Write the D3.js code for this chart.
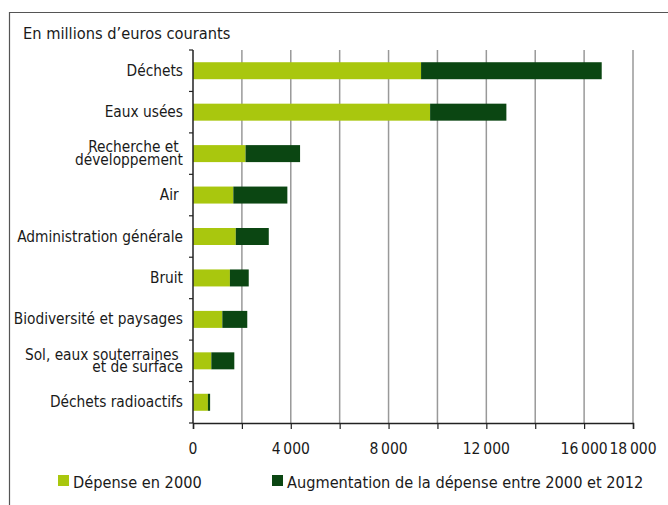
<!DOCTYPE html>
<meta charset="utf-8">
<script src="https://d3js.org/d3.v7.min.js"></script>
<style>
  body { margin: 0; background: #fff; }
  text { font-family: "Liberation Sans Narrow", "DejaVu Sans Condensed", sans-serif; fill: #1a1a1a; }
</style>
<div id="my_dataviz"></div>
<script>

// data
var categories = ["Déchets", "Eaux usées", "Recherche et |développement", "Air ", "Administration générale",
                  "Bruit", "Biodiversité et paysages", "Sol, eaux souterraines |et de surface", "Déchets radioactifs"];
var spend2000 = [9330, 9700, 2150, 1650, 1750, 1510, 1200, 750, 610];
var increase = [7390, 3120, 2230, 2210, 1350, 770, 1020, 940, 90];
var xTicks = [0, 4000, 8000, 12000, 16000, 18000];
var seriesNames = ["Dépense en 2000", "Augmentation de la dépense entre 2000 et 2012"];
var colors = ["#a9c70e", "#0b4612"];

var W = 668, H = 505;
var margin = {top: 50, left: 193, right: 35, bottom: 82};
var width = W - margin.left - margin.right,
    height = H - margin.top - margin.bottom;

var root = d3.select("#my_dataviz").append("svg")
    .attr("width", W).attr("height", H);

// frame
root.append("path")
    .attr("d", "M9.5," + H + "V12.5H" + W)
    .attr("fill", "none").attr("stroke", "#555").attr("stroke-width", 1.2);

root.append("text")
    .attr("x", 23).attr("y", 39)
    .style("font-size", "16.3px")
    .text("En millions d\u2019euros courants");

var svg = root.append("g")
    .attr("transform", "translate(" + margin.left + "," + margin.top + ")");

var x = d3.scaleLinear().domain([0, 18000]).range([0, width]);
var y = d3.scaleBand().domain(categories).range([0, height]).paddingInner(0.59).paddingOuter(0.295);
var yTick = d3.scaleLinear().domain([0, categories.length]).range([0, height]);

// gridlines
svg.selectAll(".grid")
  .data(d3.range(2000, 18001, 2000))
  .enter().append("line")
    .attr("x1", function(d) { return x(d); }).attr("x2", function(d) { return x(d); })
    .attr("y1", 0).attr("y2", height)
    .attr("stroke", "#999").attr("stroke-width", 1.5);

// stacked bars
var stacked = categories.map(function(c, i) {
  return [[0, spend2000[i]], [spend2000[i], spend2000[i] + increase[i]]];
});
categories.forEach(function(c, i) {
  stacked[i].forEach(function(seg, k) {
    svg.append("rect")
      .attr("x", x(seg[0]))
      .attr("y", y(c))
      .attr("width", x(seg[1]) - x(seg[0]))
      .attr("height", y.bandwidth())
      .attr("fill", colors[k]);
  });
});

// x axis
var xAxis = svg.append("g")
    .attr("transform", "translate(0," + height + ")")
    .call(d3.axisBottom(x).tickValues(d3.range(0, 18001, 2000)).tickSize(6).tickFormat(""));
xAxis.select(".domain").attr("stroke", "#222").attr("stroke-width", 1.5);
xAxis.selectAll(".tick line").attr("stroke", "#222").attr("stroke-width", 1.2);

svg.selectAll(".xlab")
  .data(xTicks)
  .enter().append("text")
    .attr("x", function(d) { return x(d); })
    .attr("y", height + 31)
    .attr("text-anchor", "middle")
    .style("font-size", "15.5px")
    .text(function(d) { return d === 0 ? "0" : d3.format(",")(d).replace(",", "\u202f"); });

// y axis
svg.append("line")
    .attr("x1", 0).attr("x2", 0).attr("y1", 0).attr("y2", height)
    .attr("stroke", "#222").attr("stroke-width", 1.5);
svg.selectAll(".ytick")
  .data(d3.range(0, categories.length + 1))
  .enter().append("line")
    .attr("x1", -4).attr("x2", 0)
    .attr("y1", function(d) { return yTick(d); }).attr("y2", function(d) { return yTick(d); })
    .attr("stroke", "#222").attr("stroke-width", 1.2);

categories.forEach(function(c) {
  var lines = c.split("|");
  var cy = y(c) + y.bandwidth() / 2;
  var t = svg.append("text")
      .attr("text-anchor", "end")
      .attr("xml:space", "preserve")
      .style("white-space", "pre")
      .style("font-size", "15.3px");
  lines.forEach(function(l, j) {
    t.append("tspan")
      .attr("x", -10)
      .attr("y", cy + 5 + (j - (lines.length - 1) / 2) * 12.5)
      .text(l);
  });
});

// legend
var legendX = [58, 272];
seriesNames.forEach(function(n, i) {
  root.append("rect")
    .attr("x", legendX[i]).attr("y", 475)
    .attr("width", 11).attr("height", 11)
    .attr("fill", colors[i]);
  root.append("text")
    .attr("x", legendX[i] + 15).attr("y", 488)
    .style("font-size", "16.2px")
    .text(n);
});

</script>
